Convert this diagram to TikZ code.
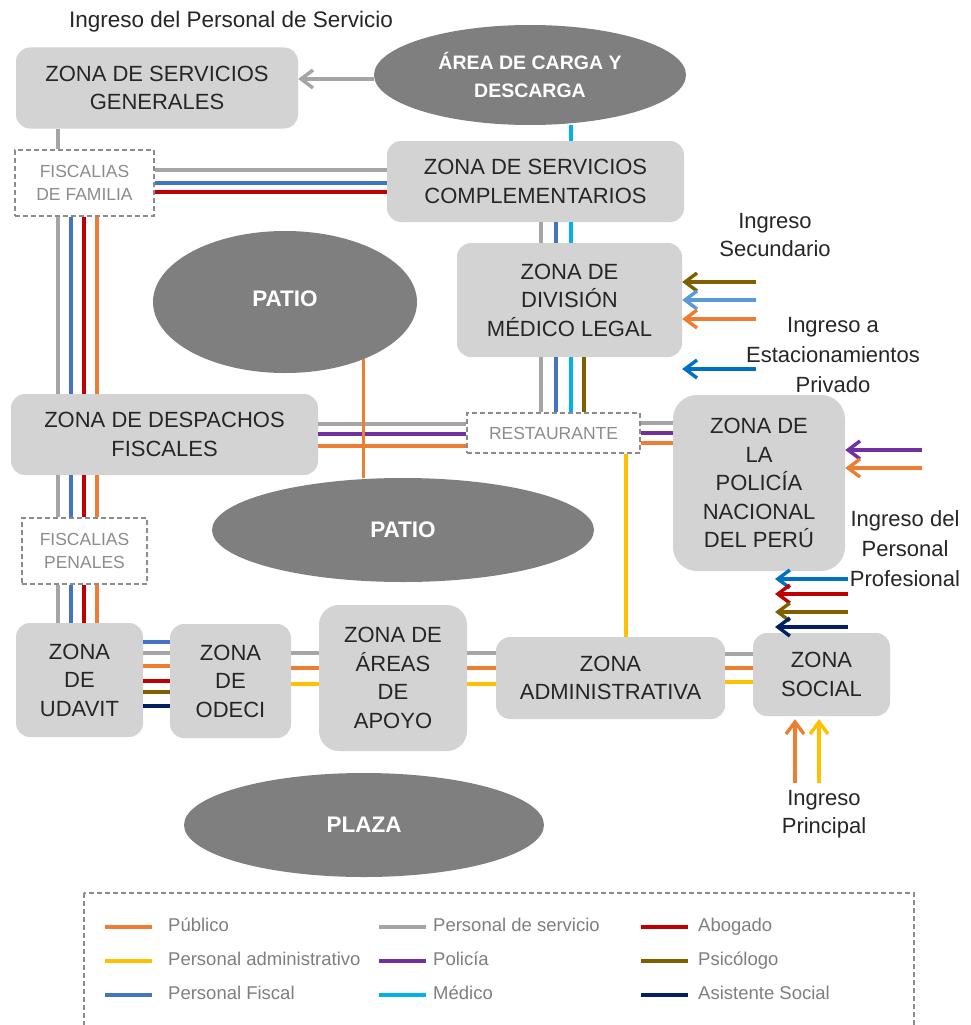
\documentclass[tikz,border=0pt]{standalone}
\usepackage{fontspec}
\setmainfont{Liberation Sans}
\usetikzlibrary{arrows.meta,shapes.geometric}
\definecolor{cOr}{HTML}{ED7D31}
\definecolor{cGr}{HTML}{A5A5A5}
\definecolor{cRe}{HTML}{C00000}
\definecolor{cYe}{HTML}{FFC000}
\definecolor{cPu}{HTML}{7030A0}
\definecolor{cBr}{HTML}{7F6000}
\definecolor{cBl}{HTML}{4472C4}
\definecolor{cCy}{HTML}{00B0F0}
\definecolor{cNa}{HTML}{002060}
\definecolor{cLb}{HTML}{5B9BD5}
\definecolor{cDb}{HTML}{0070C0}
\definecolor{boxgray}{HTML}{D3D3D3}
\definecolor{ovalc}{HTML}{7F7F7F}
\definecolor{txtc}{HTML}{262626}
\definecolor{dashc}{HTML}{8C8C8C}
\definecolor{dtxt}{HTML}{8C8C8C}
\definecolor{legc}{HTML}{7F7F7F}
\newcommand\bigf{\fontsize{22}{28.5}\selectfont}
\newcommand\smallf{\fontsize{17.5}{23}\selectfont}
\newcommand\ovalf{\fontsize{19.5}{28}\selectfont\bfseries}
\newcommand\patiof{\fontsize{22.5}{28}\selectfont\bfseries}
\newcommand\legf{\fontsize{18.5}{20}\selectfont}
\begin{document}
\begin{tikzpicture}[x=1pt,y=-1pt,
  zonebox/.style={rectangle, rounded corners=14pt, fill=boxgray, text=txtc, font=\bigf, align=center, inner sep=0pt},
  dbox/.style={rectangle, draw=dashc, line width=1.2pt, dash pattern=on 5pt off 3pt, text=dtxt, font=\smallf, align=center, inner sep=0pt},
  oval/.style={ellipse, fill=ovalc, text=white, font=\ovalf, align=center, inner sep=0pt},
  ln/.style={line width=3.4pt},
  ar/.style={line width=3.4pt, -{Straight Barb[length=12pt,width=18pt]}},
  lbl/.style={text=txtc, font=\bigf, align=center, inner sep=0pt},
  leg/.style={text=legc, font=\legf, anchor=west, inner sep=0pt, text height=13pt, text depth=4pt}
]
\path[use as bounding box] (0,0) rectangle (971,1025);
\clip (0,0) rectangle (971,1025);
\fill[white] (0,0) rectangle (971,1025);

% ---------- nodes ----------
\node[lbl, font=\fontsize{22.5}{28}\selectfont] (tserv) at (231,22) {Ingreso del Personal de Servicio};
\node[zonebox, minimum width=282pt, minimum height=81pt] (zsg) at (157,88) {ZONA DE SERVICIOS\\GENERALES};
\node[oval, minimum width=312pt, minimum height=100pt] (carga) at (530,75) {ÁREA DE CARGA Y\\DESCARGA};
\node[dbox, minimum width=139pt, minimum height=66pt] (ff) at (84.5,183) {FISCALIAS\\DE FAMILIA};
\node[zonebox, minimum width=297pt, minimum height=81pt] (zsc) at (535.5,181.5) {ZONA DE SERVICIOS\\COMPLEMENTARIOS};
\node[zonebox, minimum width=225pt, minimum height=114pt] (zdml) at (569.5,300) {ZONA DE\\DIVISIÓN\\MÉDICO LEGAL};
\node[oval, font=\patiof, minimum width=264pt, minimum height=142pt] (patio1) at (285,302) {\raisebox{6pt}{PATIO}};
\node[zonebox, minimum width=307pt, minimum height=81pt] (zdf) at (164.5,434.5) {ZONA DE DESPACHOS\\FISCALES};
\node[dbox, minimum width=173pt, minimum height=40pt] (rest) at (553.5,433) {RESTAURANTE};
\node[zonebox, rounded corners=24pt, minimum width=172pt, minimum height=176pt] (zpnp) at (759,483) {ZONA DE\\LA\\POLICÍA\\NACIONAL\\DEL PERÚ};
\node[oval, font=\patiof, minimum width=382pt, minimum height=104pt] (patio2) at (403,530) {PATIO};
\node[dbox, minimum width=125pt, minimum height=66pt] (fp) at (84.5,551) {FISCALIAS\\PENALES};
\node[zonebox, minimum width=127pt, minimum height=114pt] (udavit) at (79.5,680) {ZONA\\DE\\UDAVIT};
\node[zonebox, minimum width=121pt, minimum height=114pt] (odeci) at (230.5,681) {ZONA\\DE\\ODECI};
\node[zonebox, rounded corners=20pt, minimum width=148pt, minimum height=146pt] (apoyo) at (393,678) {ZONA DE\\ÁREAS\\DE\\APOYO};
\node[zonebox, minimum width=229pt, minimum height=82pt] (za) at (610.5,678) {ZONA\\ADMINISTRATIVA};
\node[zonebox, minimum width=137pt, minimum height=83pt] (zs) at (821.5,674.5) {ZONA\\SOCIAL};
\node[oval, font=\patiof, minimum width=360pt, minimum height=104pt] (plaza) at (364,825) {PLAZA};

\node[lbl] (tsec) at (775,235) {Ingreso\\Secundario};
\node[lbl, font=\fontsize{22}{30}\selectfont] (test) at (833,355) {Ingreso a\\Estacionamientos\\Privado};
\node[lbl, font=\fontsize{22}{30}\selectfont] (tprof) at (905,549) {Ingreso del\\Personal\\Profesional};
\node[lbl] (tprin) at (824,814) {Ingreso\\Principal};

% ---------- connectors ----------
\draw[ar,cGr] (carga.west |- 0,79) -- (zsg.east |- 0,79);
\draw[ln,cGr] (58,0 |- zsg.south) -- (58,0 |- ff.north);
\draw[ln,cCy] (571,0 |- carga.south) -- (571,0 |- zsc.north);

\draw[ln,cGr] (ff.east |- 0,170) -- (zsc.west |- 0,170);
\draw[ln,cBl] (ff.east |- 0,183) -- (zsc.west |- 0,183);
\draw[ln,cRe] (ff.east |- 0,192) -- (zsc.west |- 0,192);

\foreach \a/\b in {ff/zdf, zdf/fp, fp/udavit}{
  \draw[ln,cGr] (58,0 |- \a.south) -- (58,0 |- \b.north);
  \draw[ln,cBl] (71,0 |- \a.south) -- (71,0 |- \b.north);
  \draw[ln,cRe] (84,0 |- \a.south) -- (84,0 |- \b.north);
  \draw[ln,cOr] (97,0 |- \a.south) -- (97,0 |- \b.north);
}

\draw[ln,cGr] (541,0 |- zsc.south) -- (541,0 |- zdml.north);
\draw[ln,cBl] (556,0 |- zsc.south) -- (556,0 |- zdml.north);
\draw[ln,cCy] (571,0 |- zsc.south) -- (571,0 |- zdml.north);

\draw[ln,cGr] (541,0 |- zdml.south) -- (541,0 |- rest.north);
\draw[ln,cBl] (556,0 |- zdml.south) -- (556,0 |- rest.north);
\draw[ln,cCy] (571,0 |- zdml.south) -- (571,0 |- rest.north);
\draw[ln,cBr] (584,0 |- zdml.south) -- (584,0 |- rest.north);

\draw[ln,cGr] (zdf.east |- 0,424) -- (rest.west |- 0,424);
\draw[ln,cPu] (zdf.east |- 0,434) -- (rest.west |- 0,434);
\draw[ln,cOr] (zdf.east |- 0,446) -- (rest.west |- 0,446);
\draw[ln,cOr] (patio1.-36) -- (patio1.-36 |- patio2.north);

\draw[ln,cGr] (rest.east |- 0,423) -- (zpnp.west |- 0,423);
\draw[ln,cPu] (rest.east |- 0,433) -- (zpnp.west |- 0,433);
\draw[ln,cOr] (rest.east |- 0,443) -- (zpnp.west |- 0,443);
\draw[ln,cYe] (626,0 |- rest.south) -- (626,0 |- za.north);

\draw[ln,cBl] (udavit.east |- 0,642) -- (odeci.west |- 0,642);
\draw[ln,cGr] (udavit.east |- 0,653) -- (odeci.west |- 0,653);
\draw[ln,cOr] (udavit.east |- 0,666) -- (odeci.west |- 0,666);
\draw[ln,cRe] (udavit.east |- 0,681) -- (odeci.west |- 0,681);
\draw[ln,cBr] (udavit.east |- 0,692) -- (odeci.west |- 0,692);
\draw[ln,cNa] (udavit.east |- 0,706) -- (odeci.west |- 0,706);

\draw[ln,cGr] (odeci.east |- 0,653) -- (apoyo.west |- 0,653);
\draw[ln,cOr] (odeci.east |- 0,668) -- (apoyo.west |- 0,668);
\draw[ln,cYe] (odeci.east |- 0,684) -- (apoyo.west |- 0,684);

\draw[ln,cGr] (apoyo.east |- 0,653) -- (za.west |- 0,653);
\draw[ln,cOr] (apoyo.east |- 0,668) -- (za.west |- 0,668);
\draw[ln,cYe] (apoyo.east |- 0,684) -- (za.west |- 0,684);

\draw[ln,cGr] (za.east |- 0,654) -- (zs.west |- 0,654);
\draw[ln,cOr] (za.east |- 0,668) -- (zs.west |- 0,668);
\draw[ln,cYe] (za.east |- 0,682) -- (zs.west |- 0,682);

% entrance arrows
\coordinate (s1) at (756,282);
\coordinate (s2) at (756,300);
\coordinate (s3) at (756,319);
\coordinate (s4) at (756,369);
\draw[ar,cBr] (s1) -- (s1 -| zdml.east);
\draw[ar,cLb] (s2) -- (s2 -| zdml.east);
\draw[ar,cOr] (s3) -- (s3 -| zdml.east);
\draw[ar,cDb] (s4) -- (s4 -| zdml.east);

\coordinate (q1) at (922,450);
\coordinate (q2) at (922,468);
\draw[ar,cPu] (q1) -- (q1 -| zpnp.east);
\draw[ar,cOr] (q2) -- (q2 -| zpnp.east);

\coordinate (r1) at (848,579); \coordinate (e1) at (775,579);
\coordinate (r2) at (848,594); \coordinate (e2) at (775,594);
\coordinate (r3) at (848,612); \coordinate (e3) at (775,612);
\coordinate (r4) at (848,627); \coordinate (e4) at (775,627);
\draw[ar,cDb] (r1) -- (e1);
\draw[ar,cRe] (r2) -- (e2);
\draw[ar,cBr] (r3) -- (e3);
\draw[ar,cNa] (r4) -- (e4);

\coordinate (u1) at (795,783);
\coordinate (u2) at (819,783);
\draw[ar,cOr,shorten >=3pt] (u1) -- (u1 |- zs.south);
\draw[ar,cYe,shorten >=3pt] (u2) -- (u2 |- zs.south);

% ---------- legend ----------
\draw[draw=dashc, line width=1.2pt, dash pattern=on 5pt off 3pt] (84,893) rectangle (914,1040);
\foreach \c/\x/\tx/\y/\t in {cOr/105/168/927/Público, cYe/105/168/961/Personal administrativo, cBl/105/168/995/Personal Fiscal,
  cGr/379/433/927/Personal de servicio, cPu/379/433/961/Policía, cCy/379/433/995/Médico,
  cRe/641/698/927/Abogado, cBr/641/698/961/Psicólogo, cNa/641/698/995/Asistente Social}{
  \draw[\c, line width=3.4pt] (\x,\y) -- ++(47,0);
  \node[leg] at (\tx,\y) {\t};
}
\end{tikzpicture}
\end{document}
